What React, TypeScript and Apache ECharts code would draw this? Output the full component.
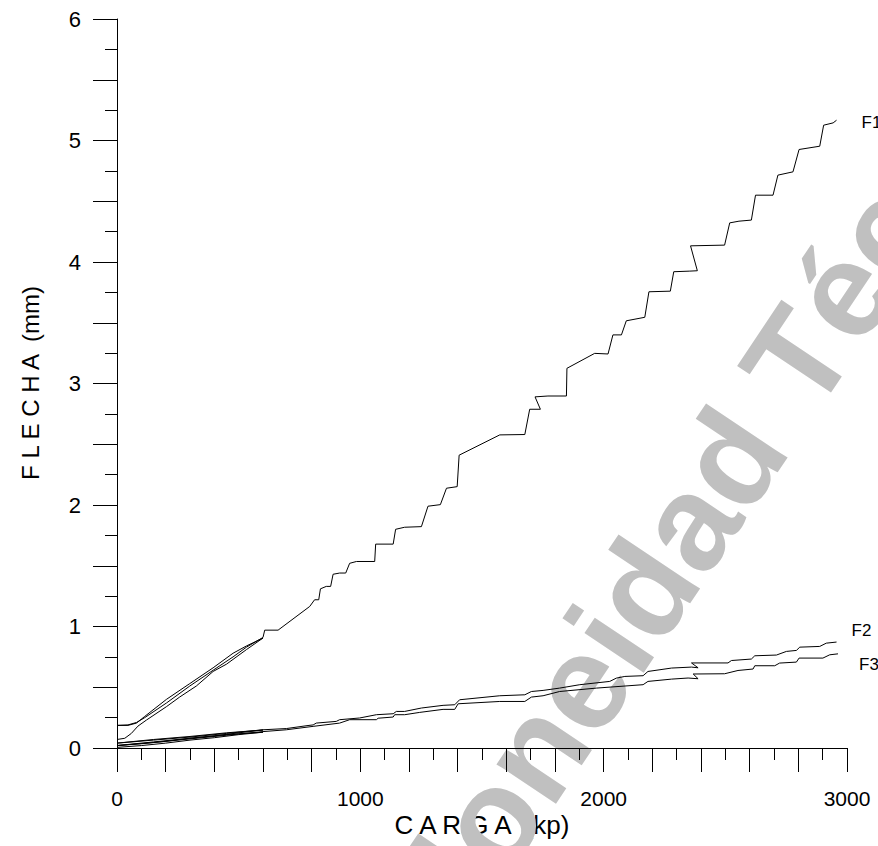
import React, { useEffect, useRef } from "react";
import * as echarts from "echarts";

// Load (kp) vs deflection (mm) readings for the three gauges
const f1Data: number[][] = [
  [0, 0.07], [32, 0.08], [59, 0.12], [86, 0.18], [121, 0.23], [203, 0.34], [258, 0.42], [326, 0.51],
  [395, 0.63], [450, 0.69], [532, 0.81], [600, 0.905],
  [532, 0.84], [477, 0.78], [395, 0.66], [299, 0.53], [203, 0.4], [114, 0.26], [80, 0.205], [45, 0.186], [0, 0.186],
  [45, 0.19], [80, 0.21], [114, 0.25], [203, 0.37], [299, 0.51], [395, 0.64], [477, 0.75], [532, 0.83], [600, 0.91],
  [607, 0.97], [662, 0.97], [792, 1.165], [812, 1.22], [829, 1.22], [836, 1.31], [860, 1.33], [878, 1.33],
  [888, 1.43], [915, 1.44], [940, 1.44], [956, 1.52], [984, 1.535], [1059, 1.535], [1063, 1.678], [1135, 1.678],
  [1145, 1.8], [1182, 1.817], [1251, 1.822], [1278, 1.99], [1329, 2.003], [1354, 2.138], [1398, 2.151],
  [1406, 2.41], [1573, 2.577], [1676, 2.58], [1696, 2.788], [1740, 2.788], [1718, 2.89], [1771, 2.897],
  [1847, 2.897], [1849, 3.125], [1963, 3.248], [2018, 3.243], [2038, 3.4], [2073, 3.4], [2093, 3.516],
  [2169, 3.545], [2186, 3.755], [2274, 3.76], [2288, 3.92], [2354, 3.925], [2385, 3.928], [2357, 4.133],
  [2497, 4.139], [2518, 4.322], [2556, 4.336], [2607, 4.345], [2624, 4.55], [2696, 4.55], [2716, 4.715],
  [2778, 4.742], [2803, 4.926], [2888, 4.953], [2904, 5.126], [2943, 5.145], [2957, 5.167],
];

const f2Data: number[][] = [
  [0, 0.02], [100, 0.035], [200, 0.055], [300, 0.08], [400, 0.1], [500, 0.125], [600, 0.148],
  [450, 0.125], [300, 0.095], [150, 0.07], [0, 0.04],
  [150, 0.065], [300, 0.09], [450, 0.12], [600, 0.15],
  [696, 0.16], [785, 0.185], [806, 0.19], [819, 0.205], [901, 0.219], [915, 0.233], [997, 0.247],
  [1066, 0.274], [1135, 0.282], [1148, 0.301], [1182, 0.301], [1251, 0.329], [1340, 0.351], [1388, 0.356],
  [1408, 0.397], [1573, 0.43], [1676, 0.438], [1703, 0.465], [1751, 0.474], [1819, 0.493], [1902, 0.521],
  [2025, 0.548], [2052, 0.575], [2087, 0.589], [2162, 0.595], [2182, 0.63], [2279, 0.658], [2361, 0.666],
  [2388, 0.66], [2361, 0.7], [2511, 0.7], [2525, 0.72], [2607, 0.732], [2621, 0.759], [2710, 0.765],
  [2751, 0.795], [2792, 0.803], [2806, 0.83], [2888, 0.836], [2915, 0.863], [2957, 0.872],
];

const f3Data: number[][] = [
  [0, 0.005], [100, 0.02], [200, 0.04], [300, 0.065], [400, 0.085], [500, 0.11], [600, 0.13],
  [450, 0.11], [300, 0.08], [150, 0.05], [0, 0.02],
  [150, 0.045], [300, 0.075], [450, 0.105], [600, 0.135],
  [696, 0.15], [806, 0.178], [915, 0.205], [956, 0.233], [1066, 0.233], [1073, 0.245], [1135, 0.255],
  [1141, 0.274], [1182, 0.274], [1244, 0.293], [1340, 0.318], [1388, 0.318], [1402, 0.364], [1573, 0.383],
  [1676, 0.383], [1703, 0.419], [1751, 0.43], [1819, 0.465], [1970, 0.493], [2162, 0.521], [2182, 0.548],
  [2279, 0.567], [2347, 0.576], [2388, 0.57], [2368, 0.609], [2497, 0.611], [2552, 0.638], [2614, 0.65],
  [2621, 0.677], [2703, 0.677], [2723, 0.699], [2792, 0.707], [2803, 0.74], [2901, 0.74], [2929, 0.767],
  [2963, 0.775],
];

const seriesNames = ["F1", "F2", "F3"];
const xTitle = "C A R G A  (kp)";
const yTitle = "F L E C H A  (mm)";
const watermarkText = "Idoneidad Técnica";

const FONT = '"Liberation Sans", Arial, Helvetica, sans-serif';

export default function App() {
  const ref = useRef<HTMLDivElement>(null);
  useEffect(() => {
    if (!ref.current) return;
    const chart = echarts.init(ref.current, null, { renderer: "svg" });
    const lineSeries = (name: string, data: number[][]) => ({
      type: "line",
      name,
      data,
      showSymbol: false,
      symbol: "none",
      z: 3,
      lineStyle: { color: "#000", width: 1 },
    });
    const baseGraphic: any[] = [
      {
        id: "xTitle",
        type: "text",
        x: 482,
        y: 825,
        z: -2,
        style: {
          text: xTitle,
          fontSize: 26,
          fontFamily: FONT,
          fill: "#000",
          align: "center",
          verticalAlign: "middle",
        },
      },
      {
        id: "yTitle",
        type: "text",
        x: 30,
        y: 383,
        rotation: Math.PI / 2,
        z: -2,
        style: {
          text: yTitle,
          fontSize: 24,
          fontFamily: FONT,
          fill: "#000",
          align: "center",
          verticalAlign: "middle",
        },
      },
      {
        id: "watermark",
        type: "text",
        x: 727,
        y: 464.5,
        rotation: (56.2 * Math.PI) / 180,
        z: -1,
        style: {
          text: watermarkText,
          fontSize: 135,
          fontWeight: "bold",
          fontFamily: FONT,
          fill: "#c0c0c0",
          align: "center",
          verticalAlign: "middle",
        },
      },
    ];
    chart.setOption({
      animation: false,
      backgroundColor: "#fff",
      grid: { left: 117, right: 31, top: 19, bottom: 98, containLabel: false },
      xAxis: {
        type: "value",
        min: 0,
        max: 3000,
        interval: 200,
        axisLine: { show: true, lineStyle: { color: "#000", width: 1 } },
        axisTick: { show: true, length: 24, lineStyle: { color: "#000" } },
        minorTick: { show: true, splitNumber: 2, length: 12, lineStyle: { color: "#000" } },
        splitLine: { show: false },
        minorSplitLine: { show: false },
        axisLabel: {
          margin: 40,
          color: "#000",
          fontSize: 21,
          fontFamily: FONT,
          formatter: (v: number) => (v % 1000 === 0 ? String(v) : ""),
        },
      },
      yAxis: {
        type: "value",
        min: 0,
        max: 6,
        interval: 0.5,
        axisLine: { show: true, lineStyle: { color: "#000", width: 1 } },
        axisTick: { show: true, length: 24, lineStyle: { color: "#000" } },
        minorTick: { show: true, splitNumber: 2, length: 12, lineStyle: { color: "#000" } },
        splitLine: { show: false },
        minorSplitLine: { show: false },
        axisLabel: {
          margin: 36,
          color: "#000",
          fontSize: 22,
          fontFamily: FONT,
          formatter: (v: number) => (Number.isInteger(v) ? String(v) : ""),
        },
      },
      graphic: baseGraphic,
      series: [
        lineSeries(seriesNames[0], f1Data),
        lineSeries(seriesNames[1], f2Data),
        lineSeries(seriesNames[2], f3Data),
      ],
    });
    // series name labels placed just past the last point of each curve
    const labelSpecs = [
      { name: seriesNames[0], data: f1Data, dx: 25, dy: 2 },
      { name: seriesNames[1], data: f2Data, dx: 15, dy: -12 },
      { name: seriesNames[2], data: f3Data, dx: 21, dy: 11 },
    ];
    const labelGraphic = labelSpecs.map((s) => {
      const last = s.data[s.data.length - 1];
      const p = chart.convertToPixel({ gridIndex: 0 }, last) as number[];
      return {
        id: "lbl" + s.name,
        type: "text",
        x: p[0] + s.dx,
        y: p[1] + s.dy,
        z: 5,
        style: {
          text: s.name,
          fontSize: 17,
          fontFamily: FONT,
          fill: "#000",
          align: "left",
          verticalAlign: "middle",
        },
      };
    });
    chart.setOption({ graphic: [...baseGraphic, ...labelGraphic] });
    return () => chart.dispose();
  }, []);
  return (
    <div
      ref={ref}
      style={{ position: "fixed", left: 0, top: 0, width: 878, height: 846 }}
    />
  );
}
